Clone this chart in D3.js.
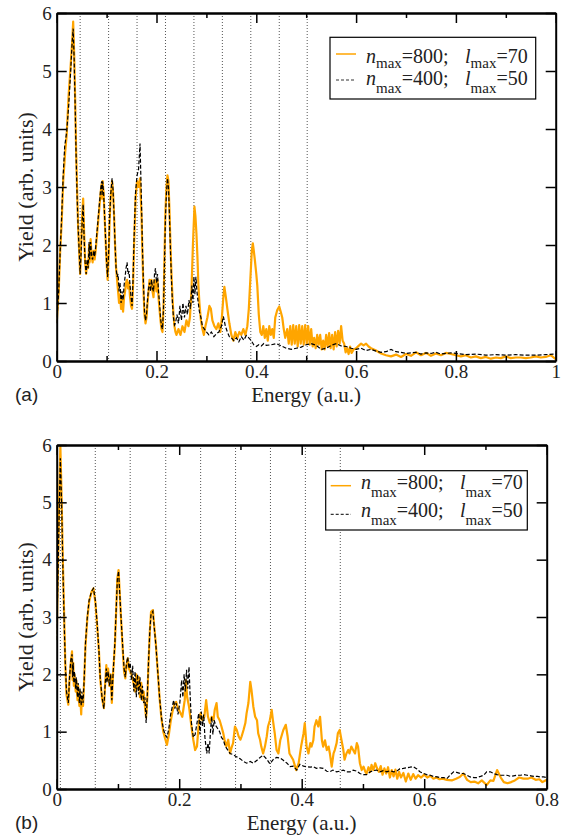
<!DOCTYPE html>
<html><head><meta charset="utf-8">
<script src="https://cdn.jsdelivr.net/npm/d3@7"></script>
<style>
body{margin:0;background:#fff}svg{display:block}
svg text{font-family:"Liberation Serif","Times New Roman","DejaVu Serif",serif !important}
svg text.sans{font-family:"Liberation Sans",Arial,sans-serif !important}
</style>
</head><body>
<svg id="chart" width="567" height="838"></svg>
<script>
// ---------------- DATA ----------------
// Panel (a): energy (a.u.) , yield (arb. units)
const panelA_n800 = [[0,0.65],[0.004,1.2],[0.007,1.9],[0.010,2.4],[0.013,3.1],[0.017,3.6],[0.020,3.9],[0.024,4.6],[0.028,5.1],[0.031,5.5],[0.033,5.85],[0.035,5.3],[0.037,4.5],[0.039,3.6],[0.041,2.9],[0.043,2.3],[0.045,1.9],[0.047,1.5],[0.049,2.0],[0.051,2.5],[0.053,2.8],[0.055,2.2],[0.057,1.7],[0.059,1.5],[0.061,1.7],[0.063,1.6],[0.065,2.0],[0.066,1.7],[0.068,2.1],[0.070,1.8],[0.072,1.7],[0.074,1.9],[0.076,1.75],[0.078,1.9],[0.080,2.1],[0.083,2.4],[0.086,2.7],[0.088,2.9],[0.090,3.05],[0.091,2.8],[0.092,3.1],[0.094,2.9],[0.096,2.5],[0.098,2.1],[0.100,1.7],[0.102,1.4],[0.104,1.8],[0.106,2.4],[0.108,2.8],[0.111,3.1],[0.113,2.9],[0.115,2.5],[0.117,2.0],[0.119,1.6],[0.121,1.4],[0.123,1.2],[0.125,1.0],[0.127,1.15],[0.129,0.9],[0.131,1.05],[0.133,0.85],[0.135,1.1],[0.137,1.2],[0.139,1.35],[0.141,1.4],[0.143,1.25],[0.145,1.35],[0.147,1.1],[0.149,0.95],[0.151,0.9],[0.153,1.3],[0.155,2.0],[0.158,2.8],[0.161,3.1],[0.164,3.0],[0.167,3.15],[0.170,2.5],[0.172,1.8],[0.174,1.2],[0.176,0.8],[0.178,0.65],[0.180,0.75],[0.182,1.0],[0.184,1.2],[0.186,1.4],[0.188,1.3],[0.190,1.4],[0.192,1.2],[0.194,1.1],[0.196,1.4],[0.198,1.35],[0.200,1.2],[0.202,1.4],[0.204,1.1],[0.206,0.9],[0.208,0.7],[0.210,0.55],[0.212,0.5],[0.214,0.9],[0.216,1.8],[0.218,2.6],[0.220,3.0],[0.222,3.2],[0.224,3.1],[0.226,2.6],[0.228,2.0],[0.230,1.5],[0.232,1.1],[0.234,0.8],[0.236,0.6],[0.238,0.5],[0.240,0.45],[0.244,0.55],[0.248,0.45],[0.252,0.6],[0.256,0.5],[0.260,0.7],[0.264,0.6],[0.267,0.75],[0.270,1.2],[0.273,2.0],[0.276,2.66],[0.278,2.5],[0.280,2.2],[0.282,1.8],[0.284,1.3],[0.286,1.0],[0.289,0.7],[0.292,0.55],[0.295,0.45],[0.298,0.6],[0.302,0.75],[0.306,0.95],[0.309,0.9],[0.312,0.7],[0.316,0.6],[0.320,0.55],[0.324,0.65],[0.328,0.5],[0.331,0.75],[0.334,1.1],[0.336,1.28],[0.339,1.1],[0.342,0.9],[0.346,0.65],[0.350,0.45],[0.354,0.35],[0.358,0.5],[0.362,0.4],[0.366,0.5],[0.370,0.45],[0.374,0.55],[0.378,0.45],[0.382,0.6],[0.385,0.9],[0.388,1.4],[0.391,1.9],[0.393,2.03],[0.395,1.9],[0.397,1.75],[0.400,1.5],[0.402,1.3],[0.405,0.8],[0.408,0.5],[0.411,0.45],[0.414,0.6],[0.417,0.4],[0.420,0.55],[0.423,0.35],[0.426,0.6],[0.429,0.45],[0.432,0.55],[0.435,0.4],[0.438,0.75],[0.442,0.88],[0.446,0.94],[0.449,0.85],[0.452,0.75],[0.455,0.55],[0.458,0.4],[0.462,0.55],[0.465,0.3],[0.468,0.6],[0.471,0.28],[0.474,0.62],[0.477,0.3],[0.480,0.6],[0.483,0.25],[0.486,0.62],[0.489,0.3],[0.492,0.6],[0.495,0.28],[0.498,0.62],[0.501,0.3],[0.504,0.6],[0.507,0.28],[0.510,0.55],[0.513,0.25],[0.516,0.4],[0.519,0.22],[0.522,0.45],[0.525,0.28],[0.528,0.45],[0.531,0.2],[0.534,0.35],[0.537,0.2],[0.540,0.45],[0.543,0.25],[0.546,0.48],[0.549,0.22],[0.552,0.45],[0.555,0.2],[0.558,0.5],[0.561,0.25],[0.564,0.52],[0.567,0.3],[0.570,0.6],[0.573,0.35],[0.576,0.3],[0.579,0.15],[0.582,0.22],[0.585,0.12],[0.588,0.25],[0.591,0.14],[0.595,0.2],[0.600,0.22],[0.605,0.26],[0.610,0.3],[0.615,0.27],[0.620,0.3],[0.625,0.25],[0.630,0.22],[0.640,0.18],[0.650,0.13],[0.660,0.1],[0.670,0.08],[0.680,0.11],[0.690,0.07],[0.700,0.12],[0.710,0.09],[0.720,0.15],[0.730,0.1],[0.740,0.14],[0.750,0.09],[0.760,0.13],[0.770,0.1],[0.780,0.14],[0.790,0.12],[0.800,0.1],[0.810,0.08],[0.820,0.1],[0.830,0.06],[0.840,0.08],[0.850,0.05],[0.860,0.07],[0.870,0.04],[0.880,0.06],[0.890,0.05],[0.900,0.08],[0.910,0.05],[0.920,0.06],[0.930,0.06],[0.940,0.05],[0.950,0.06],[0.960,0.08],[0.970,0.06],[0.980,0.07],[0.990,0.1],[1.000,0.03]];

const panelA_n400 = [[0,0.65],[0.004,1.2],[0.007,1.9],[0.010,2.5],[0.013,3.2],[0.016,3.7],[0.020,3.95],[0.024,4.4],[0.028,5.0],[0.031,5.5],[0.033,5.73],[0.035,5.2],[0.037,4.4],[0.039,3.5],[0.041,2.8],[0.043,2.3],[0.045,1.9],[0.047,1.5],[0.049,1.9],[0.051,2.4],[0.053,2.7],[0.055,2.1],[0.057,1.7],[0.059,1.5],[0.061,1.75],[0.063,1.6],[0.065,2.05],[0.066,1.75],[0.068,2.05],[0.070,1.8],[0.072,1.75],[0.074,1.9],[0.076,1.8],[0.078,1.95],[0.080,2.15],[0.083,2.45],[0.086,2.75],[0.088,2.95],[0.090,3.1],[0.091,2.85],[0.092,3.1],[0.094,2.9],[0.096,2.5],[0.098,2.1],[0.100,1.7],[0.102,1.45],[0.104,1.85],[0.106,2.45],[0.108,2.85],[0.111,3.15],[0.113,2.95],[0.115,2.5],[0.117,2.0],[0.119,1.6],[0.121,1.45],[0.123,1.5],[0.125,1.2],[0.127,1.35],[0.129,1.0],[0.131,1.2],[0.133,1.05],[0.135,1.3],[0.137,1.45],[0.139,1.6],[0.141,1.7],[0.143,1.5],[0.145,1.55],[0.147,1.3],[0.149,1.1],[0.151,0.95],[0.153,1.4],[0.155,2.1],[0.158,2.9],[0.161,3.2],[0.164,3.3],[0.167,3.75],[0.170,2.7],[0.172,1.9],[0.174,1.3],[0.176,0.85],[0.178,0.7],[0.180,0.8],[0.182,1.05],[0.184,1.25],[0.186,1.35],[0.188,1.2],[0.190,1.4],[0.192,1.25],[0.194,1.2],[0.196,1.5],[0.198,1.6],[0.200,1.35],[0.202,1.5],[0.204,1.2],[0.206,1.0],[0.208,0.75],[0.210,0.6],[0.212,0.55],[0.214,0.9],[0.216,1.7],[0.218,2.5],[0.220,2.9],[0.222,3.15],[0.224,3.0],[0.226,2.5],[0.228,1.9],[0.230,1.4],[0.232,1.0],[0.234,0.75],[0.236,0.62],[0.238,0.65],[0.241,0.8],[0.244,0.65],[0.247,0.95],[0.250,0.7],[0.253,1.0],[0.256,0.75],[0.259,0.95],[0.262,0.8],[0.265,1.05],[0.268,0.9],[0.271,1.3],[0.273,1.0],[0.275,1.45],[0.277,1.15],[0.279,1.45],[0.281,1.2],[0.283,1.05],[0.286,0.85],[0.289,0.75],[0.292,0.6],[0.296,0.55],[0.300,0.5],[0.305,0.45],[0.310,0.5],[0.315,0.42],[0.320,0.47],[0.325,0.5],[0.330,0.6],[0.334,0.77],[0.338,0.6],[0.342,0.5],[0.346,0.42],[0.350,0.4],[0.355,0.35],[0.360,0.4],[0.365,0.33],[0.370,0.42],[0.375,0.36],[0.380,0.44],[0.385,0.4],[0.390,0.35],[0.395,0.28],[0.400,0.25],[0.405,0.28],[0.410,0.26],[0.415,0.3],[0.420,0.27],[0.430,0.28],[0.440,0.3],[0.450,0.26],[0.460,0.22],[0.470,0.2],[0.480,0.22],[0.490,0.24],[0.500,0.28],[0.510,0.3],[0.520,0.27],[0.530,0.2],[0.540,0.22],[0.550,0.27],[0.560,0.3],[0.570,0.26],[0.580,0.25],[0.590,0.22],[0.600,0.2],[0.610,0.22],[0.620,0.18],[0.630,0.2],[0.640,0.17],[0.650,0.15],[0.660,0.16],[0.670,0.2],[0.680,0.16],[0.690,0.15],[0.700,0.13],[0.710,0.14],[0.720,0.15],[0.730,0.12],[0.740,0.14],[0.750,0.13],[0.760,0.15],[0.770,0.12],[0.780,0.13],[0.790,0.14],[0.800,0.13],[0.820,0.11],[0.840,0.12],[0.860,0.1],[0.880,0.11],[0.900,0.1],[0.920,0.11],[0.940,0.1],[0.960,0.1],[0.980,0.11],[1.000,0.12]];

// Panel (b)
const panelB_n800 = [[0,2.6],[0.002,3.8],[0.004,5.0],[0.006,5.97],[0.008,5.1],[0.010,4.0],[0.012,3.1],[0.014,2.2],[0.016,1.64],[0.019,1.47],[0.021,1.93],[0.023,2.2],[0.025,2.4],[0.026,1.9],[0.027,2.2],[0.028,1.8],[0.029,2.0],[0.031,1.7],[0.032,1.9],[0.034,1.55],[0.035,1.8],[0.037,1.45],[0.038,1.7],[0.040,1.3],[0.041,1.6],[0.043,1.45],[0.045,1.93],[0.047,2.5],[0.050,2.98],[0.053,3.27],[0.057,3.44],[0.060,3.5],[0.063,3.27],[0.066,2.86],[0.069,2.4],[0.071,1.93],[0.074,1.58],[0.077,1.41],[0.079,1.81],[0.081,2.16],[0.082,1.9],[0.084,2.1],[0.086,1.8],[0.088,2.0],[0.090,1.5],[0.092,2.0],[0.095,2.51],[0.097,3.09],[0.099,3.67],[0.101,3.82],[0.103,3.4],[0.105,2.98],[0.108,2.4],[0.110,2.05],[0.112,1.93],[0.114,2.16],[0.116,2.28],[0.118,2.1],[0.120,2.05],[0.122,2.0],[0.124,1.93],[0.126,1.81],[0.128,1.7],[0.130,2.0],[0.132,1.75],[0.134,1.95],[0.136,1.6],[0.138,1.85],[0.140,1.55],[0.142,1.7],[0.144,1.45],[0.146,1.25],[0.148,1.6],[0.150,2.22],[0.152,2.74],[0.154,3.09],[0.157,3.12],[0.159,2.86],[0.162,2.51],[0.165,2.05],[0.168,1.58],[0.171,1.23],[0.174,1.0],[0.177,0.88],[0.180,0.77],[0.183,0.94],[0.186,1.17],[0.189,1.35],[0.192,1.47],[0.195,1.52],[0.198,1.41],[0.201,1.35],[0.205,1.26],[0.209,1.55],[0.211,1.9],[0.213,1.6],[0.216,1.44],[0.220,1.09],[0.223,0.86],[0.226,0.68],[0.229,0.74],[0.232,1.15],[0.235,1.32],[0.238,1.2],[0.241,1.26],[0.244,1.55],[0.247,1.26],[0.250,1.15],[0.253,1.26],[0.256,1.2],[0.258,1.38],[0.261,1.5],[0.263,1.26],[0.266,1.2],[0.269,1.09],[0.272,0.97],[0.274,0.86],[0.277,0.74],[0.280,0.86],[0.283,0.62],[0.286,0.74],[0.288,0.8],[0.291,1.09],[0.294,1.03],[0.297,0.92],[0.300,0.86],[0.302,0.92],[0.305,1.03],[0.308,1.15],[0.310,1.32],[0.313,1.5],[0.316,1.87],[0.318,1.73],[0.321,1.44],[0.324,1.26],[0.327,1.2],[0.329,0.97],[0.332,0.86],[0.334,0.74],[0.337,0.62],[0.340,0.74],[0.343,0.92],[0.345,1.09],[0.348,1.2],[0.351,1.38],[0.353,1.2],[0.356,0.97],[0.359,0.68],[0.362,0.62],[0.365,0.85],[0.370,1.03],[0.374,1.12],[0.377,0.92],[0.380,0.62],[0.386,0.51],[0.391,0.33],[0.395,0.45],[0.399,0.74],[0.403,0.97],[0.405,1.15],[0.408,0.74],[0.411,0.62],[0.414,0.8],[0.416,0.74],[0.419,0.85],[0.421,1.09],[0.424,1.2],[0.427,1.09],[0.430,1.26],[0.433,0.85],[0.435,0.74],[0.438,0.85],[0.441,0.68],[0.444,0.74],[0.446,0.62],[0.449,0.39],[0.452,0.62],[0.454,0.68],[0.457,0.8],[0.459,0.97],[0.462,1.03],[0.465,0.85],[0.468,0.68],[0.470,0.51],[0.473,0.62],[0.476,0.68],[0.478,0.62],[0.481,0.74],[0.484,0.68],[0.487,0.62],[0.490,0.8],[0.492,0.74],[0.495,0.45],[0.498,0.33],[0.501,0.39],[0.504,0.3],[0.506,0.27],[0.509,0.38],[0.512,0.3],[0.514,0.42],[0.517,0.33],[0.520,0.45],[0.523,0.36],[0.526,0.3],[0.529,0.4],[0.532,0.25],[0.535,0.36],[0.538,0.27],[0.541,0.38],[0.544,0.2],[0.547,0.33],[0.550,0.22],[0.553,0.34],[0.556,0.18],[0.559,0.3],[0.562,0.2],[0.566,0.28],[0.570,0.13],[0.574,0.27],[0.578,0.16],[0.582,0.26],[0.586,0.18],[0.590,0.24],[0.595,0.2],[0.600,0.25],[0.605,0.2],[0.610,0.23],[0.615,0.18],[0.620,0.2],[0.625,0.17],[0.630,0.18],[0.637,0.16],[0.645,0.15],[0.652,0.18],[0.658,0.21],[0.664,0.27],[0.670,0.16],[0.676,0.12],[0.682,0.13],[0.688,0.1],[0.694,0.15],[0.702,0.07],[0.708,0.15],[0.713,0.14],[0.719,0.33],[0.725,0.2],[0.730,0.12],[0.736,0.1],[0.742,0.12],[0.748,0.15],[0.755,0.2],[0.762,0.18],[0.769,0.18],[0.775,0.2],[0.782,0.16],[0.788,0.17],[0.793,0.12],[0.800,0.16]];

const panelB_n400 = [[0,2.6],[0.002,3.7],[0.004,4.8],[0.006,5.77],[0.008,5.0],[0.010,3.9],[0.012,3.0],[0.014,2.2],[0.016,1.7],[0.019,1.5],[0.021,1.95],[0.023,2.25],[0.025,2.35],[0.026,1.95],[0.027,2.2],[0.028,1.85],[0.029,2.05],[0.031,1.75],[0.032,1.95],[0.034,1.6],[0.035,1.85],[0.037,1.5],[0.038,1.75],[0.040,1.45],[0.041,1.7],[0.043,1.5],[0.045,1.95],[0.047,2.55],[0.050,3.0],[0.053,3.3],[0.057,3.45],[0.060,3.5],[0.063,3.3],[0.066,2.9],[0.069,2.4],[0.071,1.95],[0.074,1.6],[0.077,1.4],[0.079,1.8],[0.081,2.1],[0.082,1.85],[0.084,2.05],[0.086,1.8],[0.088,2.0],[0.090,1.55],[0.092,2.0],[0.095,2.55],[0.097,3.1],[0.099,3.65],[0.101,3.8],[0.103,3.4],[0.105,3.0],[0.108,2.45],[0.110,2.1],[0.112,1.95],[0.114,2.2],[0.116,2.3],[0.118,2.1],[0.120,2.2],[0.122,1.9],[0.124,2.15],[0.126,1.7],[0.128,2.05],[0.130,1.6],[0.132,2.0],[0.134,1.65],[0.136,1.95],[0.138,1.55],[0.140,1.8],[0.142,1.5],[0.144,1.6],[0.146,1.15],[0.148,1.65],[0.150,2.25],[0.152,2.75],[0.154,3.05],[0.157,3.1],[0.159,2.85],[0.162,2.5],[0.165,2.05],[0.168,1.6],[0.171,1.25],[0.174,1.05],[0.177,0.95],[0.180,0.9],[0.183,1.05],[0.186,1.3],[0.189,1.45],[0.191,1.55],[0.193,1.4],[0.195,1.5],[0.198,1.3],[0.201,1.5],[0.204,1.9],[0.206,1.6],[0.208,2.0],[0.210,1.7],[0.212,2.08],[0.214,1.75],[0.216,2.13],[0.218,1.6],[0.220,1.15],[0.223,0.9],[0.226,0.95],[0.229,1.15],[0.232,1.32],[0.234,0.95],[0.236,1.35],[0.238,1.1],[0.240,1.3],[0.242,0.9],[0.245,0.62],[0.247,0.8],[0.249,0.62],[0.251,1.0],[0.253,1.26],[0.255,0.95],[0.257,1.2],[0.260,1.1],[0.263,1.05],[0.266,1.0],[0.269,0.9],[0.272,0.86],[0.275,0.75],[0.278,0.7],[0.283,0.62],[0.288,0.6],[0.294,0.56],[0.299,0.53],[0.305,0.48],[0.310,0.45],[0.316,0.48],[0.321,0.45],[0.327,0.5],[0.332,0.55],[0.337,0.59],[0.343,0.52],[0.348,0.44],[0.354,0.52],[0.359,0.55],[0.365,0.54],[0.370,0.5],[0.376,0.45],[0.381,0.39],[0.386,0.4],[0.392,0.33],[0.397,0.43],[0.403,0.4],[0.408,0.39],[0.414,0.38],[0.419,0.39],[0.424,0.36],[0.430,0.37],[0.435,0.36],[0.441,0.31],[0.446,0.3],[0.451,0.33],[0.457,0.3],[0.462,0.31],[0.468,0.33],[0.473,0.3],[0.479,0.3],[0.484,0.33],[0.490,0.31],[0.495,0.27],[0.501,0.25],[0.506,0.25],[0.512,0.3],[0.517,0.32],[0.522,0.33],[0.528,0.3],[0.533,0.32],[0.539,0.3],[0.544,0.32],[0.550,0.3],[0.555,0.31],[0.560,0.35],[0.566,0.36],[0.571,0.37],[0.577,0.38],[0.582,0.39],[0.588,0.35],[0.593,0.3],[0.599,0.27],[0.604,0.25],[0.610,0.24],[0.615,0.22],[0.621,0.21],[0.626,0.2],[0.632,0.2],[0.637,0.18],[0.642,0.24],[0.648,0.3],[0.653,0.29],[0.659,0.27],[0.664,0.27],[0.670,0.24],[0.675,0.21],[0.681,0.2],[0.686,0.2],[0.692,0.22],[0.697,0.24],[0.702,0.3],[0.708,0.3],[0.713,0.27],[0.719,0.25],[0.724,0.24],[0.730,0.24],[0.735,0.24],[0.741,0.22],[0.746,0.23],[0.752,0.24],[0.757,0.24],[0.763,0.25],[0.768,0.24],[0.774,0.23],[0.779,0.22],[0.785,0.22],[0.790,0.21],[0.795,0.21],[0.800,0.2]];

// vertical dotted reference energies
const panelA_markers = [0.047, 0.104, 0.161, 0.218, 0.275, 0.332, 0.389, 0.446, 0.502];
const panelB_markers = [0.006, 0.063, 0.120, 0.178, 0.235, 0.292, 0.349, 0.406, 0.463];

// ticks
const panelA_xMajor = [0, 0.2, 0.4, 0.6, 0.8, 1.0];
const panelA_xLabels = ["0", "0.2", "0.4", "0.6", "0.8", "1"];
const panelA_xMinor = [0.1, 0.3, 0.5, 0.7, 0.9];
const panelB_xMajor = [0, 0.2, 0.4, 0.6, 0.8];
const panelB_xLabels = ["0", "0.2", "0.4", "0.6", "0.8"];
const panelB_xMinor = [0.1, 0.3, 0.5, 0.7];
const yMajor = [0, 1, 2, 3, 4, 5, 6];
const yLabels = ["0", "1", "2", "3", "4", "5", "6"];

const seriesNames = [
  {n: "800", l: "70"},
  {n: "400", l: "50"}
];
const panelLetters = ["(a)", "(b)"];
const xTitle = "Energy (a.u.)";
const yTitle = "Yield (arb. units)";

// ---------------- DRAW ----------------
const svg = d3.select("#chart");
const ORANGE = "#FFA500";
const TXT = "#222";
const serif = "Liberation Serif";

function drawPanel(cfg) {
  const x = d3.scaleLinear().domain(cfg.xDomain).range([cfg.left, cfg.right]);
  const y = d3.scaleLinear().domain([0, 6]).range([cfg.bottom, cfg.top]);
  const g = svg.append("g").attr("font-family", serif);
  const clipId = "clip" + cfg.id;
  svg.append("defs").append("clipPath").attr("id", clipId)
    .append("rect").attr("x", cfg.left).attr("y", cfg.top)
    .attr("width", cfg.right - cfg.left).attr("height", cfg.bottom - cfg.top);

  // dotted markers
  g.append("g").selectAll("line").data(cfg.markers).join("line")
    .attr("x1", d => x(d)).attr("x2", d => x(d))
    .attr("y1", cfg.top).attr("y2", cfg.bottom)
    .attr("stroke", "#555").attr("stroke-width", 1)
    .attr("stroke-dasharray", "1,2");

  const line = d3.line().x(d => x(d[0])).y(d => y(d[1]));
  const plot = g.append("g").attr("clip-path", `url(#${clipId})`);
  plot.append("path").datum(cfg.s800).attr("d", line)
    .attr("fill", "none").attr("stroke", ORANGE).attr("stroke-width", 2.2)
    .attr("stroke-linejoin", "round");
  plot.append("path").datum(cfg.s400).attr("d", line)
    .attr("fill", "none").attr("stroke", "#000").attr("stroke-width", 1.2)
    .attr("stroke-dasharray", "4,2");

  // axes
  const styleAxis = sel => {
    sel.attr("font-family", serif).attr("font-size", 19);
    sel.select(".domain").attr("stroke", "#000").attr("stroke-width", 2);
    sel.selectAll(".tick line").attr("stroke", "#000").attr("stroke-width", 1.5);
    sel.selectAll(".tick text").attr("fill", TXT);
  };
  const bottomAxis = g.append("g").attr("transform", `translate(0,${cfg.bottom})`)
    .call(d3.axisBottom(x).tickValues(cfg.xMajor).tickFormat((d, i) => cfg.xLabels[i])
      .tickSizeInner(-10).tickSizeOuter(0).tickPadding(4));
  styleAxis(bottomAxis);
  const bottomMinor = g.append("g").attr("transform", `translate(0,${cfg.bottom})`)
    .call(d3.axisBottom(x).tickValues(cfg.xMinor).tickFormat("").tickSizeInner(-5).tickSizeOuter(0));
  styleAxis(bottomMinor);
  const topAxis = g.append("g").attr("transform", `translate(0,${cfg.top})`)
    .call(d3.axisTop(x).tickValues(cfg.xMajor).tickFormat("").tickSizeInner(-10).tickSizeOuter(0));
  styleAxis(topAxis);
  const topMinor = g.append("g").attr("transform", `translate(0,${cfg.top})`)
    .call(d3.axisTop(x).tickValues(cfg.xMinor).tickFormat("").tickSizeInner(-5).tickSizeOuter(0));
  styleAxis(topMinor);
  const leftAxis = g.append("g").attr("transform", `translate(${cfg.left},0)`)
    .call(d3.axisLeft(y).tickValues(yMajor).tickFormat((d, i) => yLabels[i])
      .tickSizeInner(-10).tickSizeOuter(0).tickPadding(5));
  styleAxis(leftAxis);
  const rightAxis = g.append("g").attr("transform", `translate(${cfg.right},0)`)
    .call(d3.axisRight(y).tickValues(yMajor).tickFormat("").tickSizeInner(-10).tickSizeOuter(0));
  styleAxis(rightAxis);

  // axis titles
  g.append("text").attr("x", (cfg.left + cfg.right) / 2).attr("y", cfg.bottom + cfg.titleGap)
    .attr("text-anchor", "middle").attr("fill", TXT)
    .attr("font-size", 21).text(xTitle);
  g.append("text")
    .attr("transform", `translate(33,${(cfg.top + cfg.bottom) / 2}) rotate(-90)`)
    .attr("text-anchor", "middle").attr("fill", TXT)
    .attr("font-size", 22).text(yTitle);
  g.append("text").attr("class", "sans").attr("x", 15).attr("y", cfg.letterY).attr("fill", TXT)
    .attr("font-family", "Liberation Sans").attr("font-size", 19)
    .text(cfg.letter);

  // legend
  const L = cfg.legend;
  const lg = g.append("g");
  lg.append("rect").attr("x", L.x0).attr("y", L.y0).attr("width", L.x1 - L.x0).attr("height", L.y1 - L.y0)
    .attr("fill", "#fff").attr("stroke", "#000").attr("stroke-width", 1.2);
  const styles = [
    {stroke: ORANGE, w: 1.5, dash: null},
    {stroke: "#333", w: 1.2, dash: "3,2"}
  ];
  seriesNames.forEach((s, i) => {
    const row = L.rows[i];
    lg.append("line").attr("x1", L.lineX0).attr("x2", L.lineX1)
      .attr("y1", row.lineY).attr("y2", row.lineY)
      .attr("stroke", styles[i].stroke).attr("stroke-width", styles[i].w)
      .attr("stroke-dasharray", styles[i].dash);
    const t = lg.append("text").attr("y", row.base).attr("fill", TXT)
      .attr("font-size", 20);
    t.append("tspan").attr("x", L.textX).attr("font-style", "italic").text("n");
    t.append("tspan").attr("font-size", 15).attr("dy", row.sub).text("max");
    t.append("tspan").attr("dy", -row.sub).text("=" + s.n + ";");
    t.append("tspan").attr("x", L.lX).attr("font-style", "italic").text("l");
    t.append("tspan").attr("font-size", 15).attr("dy", row.sub).text("max");
    t.append("tspan").attr("dy", -row.sub).text("=" + s.l);
  });
}

drawPanel({
  id: "a", left: 56.7, right: 555.7, top: 13, bottom: 361, xDomain: [0, 1],
  s800: panelA_n800, s400: panelA_n400, markers: panelA_markers,
  xMajor: panelA_xMajor, xLabels: panelA_xLabels, xMinor: panelA_xMinor,
  letter: panelLetters[0], letterY: 401, titleGap: 41,
  legend: {x0: 330, x1: 535.7, y0: 37.3, y1: 99, lineX0: 336, lineX1: 356, textX: 366, lX: 465,
    rows: [{lineY: 54, base: 63.3, sub: 5}, {lineY: 80, base: 84.5, sub: 8}]}
});
drawPanel({
  id: "b", left: 56.7, right: 546.7, top: 445, bottom: 789, xDomain: [0, 0.8],
  s800: panelB_n800, s400: panelB_n400, markers: panelB_markers,
  xMajor: panelB_xMajor, xLabels: panelB_xLabels, xMinor: panelB_xMinor,
  letter: panelLetters[1], letterY: 829, titleGap: 41,
  legend: {x0: 325.7, x1: 527.3, y0: 470.7, y1: 530, lineX0: 330.7, lineX1: 351, textX: 361, lX: 460,
    rows: [{lineY: 485.7, base: 489, sub: 8}, {lineY: 514.3, base: 516.7, sub: 8}]}
});
</script>
</body></html>
